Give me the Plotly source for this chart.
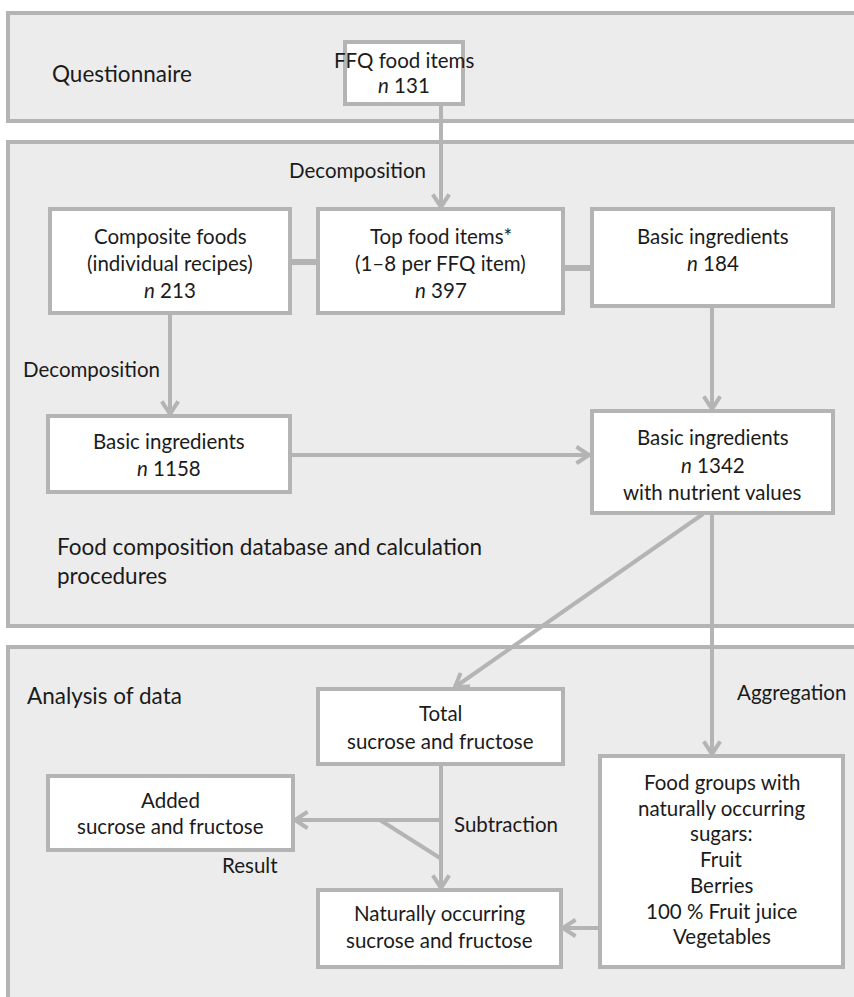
import math
import plotly.graph_objects as go

# ---- content (text) ----
panel_titles = ["Questionnaire", "Food composition database and calculation<br>procedures", "Analysis of data"]
box_labels = [
    ["FFQ food items", "<i>n</i> 131"],
    ["Composite foods", "(individual recipes)", "<i>n</i> 213"],
    ["Top food items*", "(1–8 per FFQ item)", "<i>n</i> 397"],
    ["Basic ingredients", "<i>n</i> 184"],
    ["Basic ingredients", "<i>n</i> 1158"],
    ["Basic ingredients", "<i>n</i> 1342", "with nutrient values"],
    ["Total", "sucrose and fructose"],
    ["Added", "sucrose and fructose"],
    ["Naturally occurring", "sucrose and fructose"],
    ["Food groups with", "naturally occurring", "sugars:", "Fruit", "Berries", "100 % Fruit juice", "Vegetables"],
]
edge_labels = ["Decomposition", "Decomposition", "Aggregation", "Subtraction", "Result"]

# ---- geometry (pixel layout) ----
W, H = 854, 997
panels = [(8, 13, 866, 121), (8, 142, 866, 626), (8, 647, 866, 1010)]
panel_title_pos = [(50, 73), (55, 561), (25, 695)]
boxes = [
    (345, 42, 463, 104),
    (50, 209, 290, 313),
    (318, 209, 563, 313),
    (592, 209, 833, 306),
    (48, 416, 290, 492),
    (592, 411, 833, 513),
    (318, 689, 563, 764),
    (48, 776, 293, 850),
    (318, 890, 561, 967),
    (600, 756, 843, 967),
]
text_first_y = [60, 236, 236, 236, 441, 437, 713, 800, 913, 782]
line_spacing = [25, 27, 27, 27, 27, 27.5, 28, 26, 27, 25.7]
edge_label_pos = [(357, 170), (91, 369), (791, 692), (506, 824), (250, 865)]
arrows = [
    (441, 104, 441, 207),
    (170, 313, 170, 414),
    (712, 306, 712, 409),
    (290, 455, 589, 455),
    (703, 514, 455, 687),
    (712, 514, 712, 754),
    (441, 764, 441, 888),
    (441, 820, 295, 820),
    (600, 928, 563, 928),
]
plain_lines = [(380, 820, 440, 858, 4), (290, 262, 318, 262, 6), (563, 268, 592, 268, 6)]

GRAY = "#b4b4b4"
PANEL_FILL = "#ececec"
TXT = "#1b1b1b"
FONT = "Lato, Open Sans, sans-serif"

fig = go.Figure()
shapes = []
annotations = []

for (x0, y0, x1, y1) in panels:
    shapes.append(dict(type="rect", x0=x0, y0=y0, x1=x1, y1=y1, fillcolor=PANEL_FILL,
                       line=dict(color=GRAY, width=4), layer="below"))


def add_line(x0, y0, x1, y1, w=4):
    shapes.append(dict(type="line", x0=x0, y0=y0, x1=x1, y1=y1, line=dict(color=GRAY, width=w)))


for (x0, y0, x1, y1) in arrows:
    add_line(x0, y0, x1, y1)
    ang = math.atan2(y1 - y0, x1 - x0)
    L, a = 15, math.radians(33)
    p1 = (x1 - L * math.cos(ang - a), y1 - L * math.sin(ang - a))
    p2 = (x1 - L * math.cos(ang + a), y1 - L * math.sin(ang + a))
    shapes.append(dict(type="path", path=f"M {p1[0]:.1f} {p1[1]:.1f} L {x1} {y1} L {p2[0]:.1f} {p2[1]:.1f}",
                       line=dict(color=GRAY, width=4)))

for (x0, y0, x1, y1, w) in plain_lines:
    add_line(x0, y0, x1, y1, w)

for (x0, y0, x1, y1), lines, fy, sp in zip(boxes, box_labels, text_first_y, line_spacing):
    shapes.append(dict(type="rect", x0=x0, y0=y0, x1=x1, y1=y1, fillcolor="white",
                       line=dict(color=GRAY, width=4)))
    for i, t in enumerate(lines):
        annotations.append(dict(x=(x0 + x1) / 2, y=fy + i * sp, text=t, showarrow=False, xanchor="center",
                                yanchor="middle", font=dict(family=FONT, size=20.5, color=TXT)))

for t, (x, y) in zip(panel_titles, panel_title_pos):
    annotations.append(dict(x=x, y=y, text=t, showarrow=False, xanchor="left", yanchor="middle",
                            align="left", font=dict(family=FONT, size=22.5, color=TXT)))

for t, (x, y) in zip(edge_labels, edge_label_pos):
    annotations.append(dict(x=x, y=y, text=t, showarrow=False, xanchor="center", yanchor="middle",
                            font=dict(family=FONT, size=20.5, color=TXT)))

fig.update_layout(
    width=W, height=H, margin=dict(l=0, r=0, t=0, b=0),
    paper_bgcolor="white", plot_bgcolor="white",
    xaxis=dict(range=[0, W], visible=False, fixedrange=True),
    yaxis=dict(range=[H, 0], visible=False, fixedrange=True),
    shapes=shapes, annotations=annotations, showlegend=False,
)
fig.write_html("out.html", config={"displayModeBar": False},
               post_script="document.body.style.margin='0px';document.body.style.overflow='hidden';")
